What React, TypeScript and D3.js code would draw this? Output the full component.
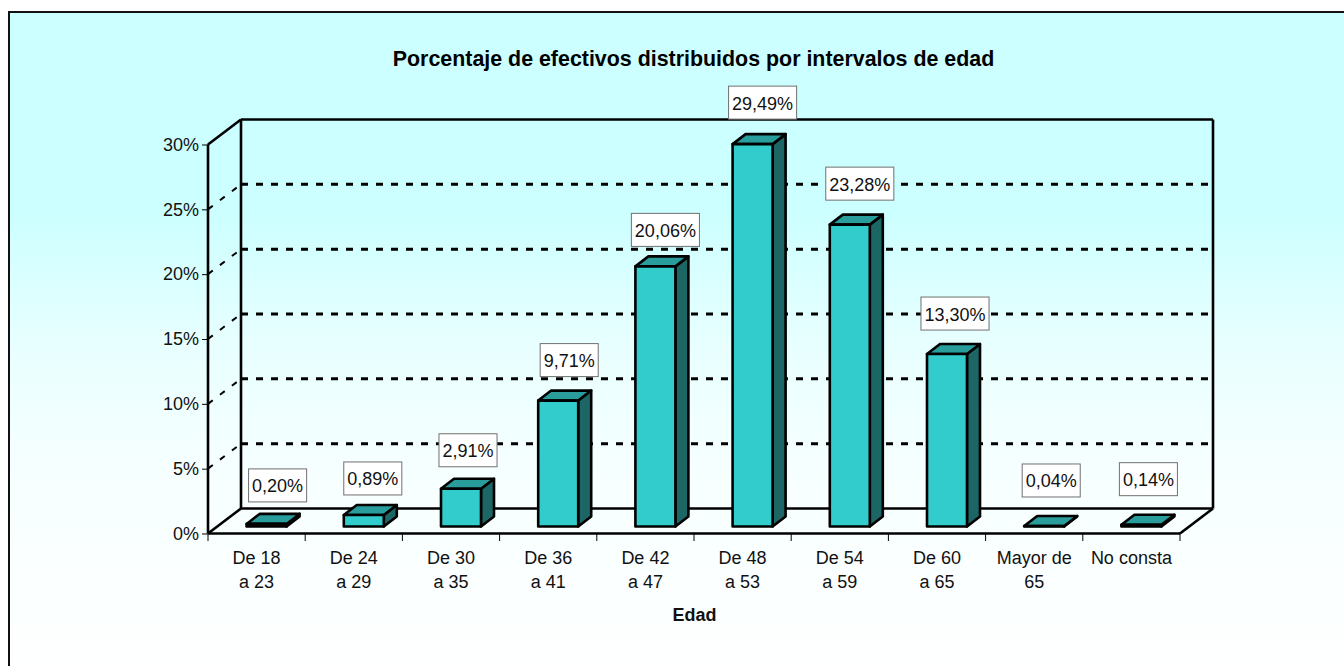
import React, { useEffect, useRef } from "react";
import * as d3 from "d3";

const categories = [
  ["De 18", "a 23"],
  ["De 24", "a 29"],
  ["De 30", "a 35"],
  ["De 36", "a 41"],
  ["De 42", "a 47"],
  ["De 48", "a 53"],
  ["De 54", "a 59"],
  ["De 60", "a 65"],
  ["Mayor de", "65"],
  ["No consta"],
];
const values = [0.2, 0.89, 2.91, 9.71, 20.06, 29.49, 23.28, 13.3, 0.04, 0.14];
const valueLabels = ["0,20%", "0,89%", "2,91%", "9,71%", "20,06%", "29,49%", "23,28%", "13,30%", "0,04%", "0,14%"];
const yTicks = [0, 5, 10, 15, 20, 25, 30];

// small hand nudges for the label boxes, Excel places them a bit unevenly
const labelNudgeX = [3, 1, -1, 3, 2, 2, 2, 0, -1, -1];
const labelNudgeY = [-1, -3, -1, 1, -3, 2, 1.5, 1, 6, 6];

const font = "'Liberation Sans', Arial, sans-serif";

const App = () => {
  const ref = useRef<SVGSVGElement>(null);

  useEffect(() => {
    const svg = d3.select(ref.current);
    svg.selectAll("*").remove();

    const left = 208;
    const right = 1180;
    const bottom = 533.5;
    const top = 144.5;
    const depthX = 33;
    const depthY = 25;
    const lineW = 2.6;

    const x = d3
      .scaleBand<number>()
      .domain(d3.range(values.length))
      .range([left, right]);
    const y = d3.scaleLinear().domain([0, 30]).range([bottom, top]);

    // Background
    const defs = svg.append("defs");
    const grad = defs
      .append("linearGradient")
      .attr("id", "bg")
      .attr("x1", 0)
      .attr("y1", 0)
      .attr("x2", 0)
      .attr("y2", 1);
    [
      [0, "#ccffff"],
      [0.3, "#ccffff"],
      [0.5, "#e8ffff"],
      [0.68, "#f6ffff"],
      [0.85, "#fbffff"],
      [1, "#ffffff"],
    ].forEach(([o, c]) => grad.append("stop").attr("offset", o).attr("stop-color", c));

    svg
      .append("rect")
      .attr("x", 9)
      .attr("y", 12)
      .attr("width", 1344)
      .attr("height", 666)
      .attr("fill", "url(#bg)")
      .attr("stroke", "#111")
      .attr("stroke-width", 2);

    const plot = svg.append("g");
    const line = (x1: number, y1: number, x2: number, y2: number, w = lineW, dash?: string) =>
      plot
        .append("line")
        .attr("x1", x1)
        .attr("y1", y1)
        .attr("x2", x2)
        .attr("y2", y2)
        .attr("stroke", "#000")
        .attr("stroke-width", w)
        .attr("stroke-dasharray", dash || null);

    // Grid on the back wall and the side wall
    yTicks.slice(1, -1).forEach((t) => {
      line(left + depthX, y(t) - depthY, left + depthX + (right - left), y(t) - depthY, 3, "7 8");
      line(left, y(t), left + depthX, y(t) - depthY, 2, "6 9");
    });

    // Walls
    line(left + depthX, top - depthY, right + depthX, top - depthY);
    line(right + depthX, top - depthY, right + depthX, bottom - depthY);
    line(left + depthX, top - depthY, left + depthX, bottom - depthY);
    line(left + depthX, bottom - depthY, right + depthX, bottom - depthY);
    line(left, top, left + depthX, top - depthY);
    line(left, bottom, left + depthX, bottom - depthY);
    line(right, bottom, right + depthX, bottom - depthY);
    line(left, top, left, bottom);
    line(left, bottom, right, bottom);

    // Axis ticks
    const yAxis = svg
      .append("g")
      .attr("transform", `translate(${left},0)`)
      .call(
        d3
          .axisLeft(y)
          .tickValues(yTicks)
          .tickSize(6)
          .tickPadding(3)
          .tickFormat((d) => d + "%")
      );
    yAxis.select(".domain").remove();
    yAxis.selectAll("line").attr("stroke", "#000").attr("stroke-width", 1);
    yAxis
      .selectAll("text")
      .attr("fill", "#111")
      .style("font-family", font)
      .style("font-size", "18px");

    d3.range(values.length + 1).forEach((i) => {
      line(left + i * x.step(), bottom, left + i * x.step(), bottom + 7.5, 1);
    });

    // Category labels
    categories.forEach((lines, i) => {
      lines.forEach((s, j) => {
        svg
          .append("text")
          .attr("x", x(i)! + x.bandwidth() / 2)
          .attr("y", 564 + j * 24)
          .attr("text-anchor", "middle")
          .attr("fill", "#111")
          .style("font-family", font)
          .style("font-size", "18px")
          .text(s);
      });
    });

    // Bars
    const barW = 40;
    const front = { x: 10, y: 7 };
    const dx = 13;
    const dy = 10;
    const poly = (pts: number[][], fill: string) =>
      svg
        .append("polygon")
        .attr("points", pts.map((p) => p.join(",")).join(" "))
        .attr("fill", fill)
        .attr("stroke", "#000")
        .attr("stroke-width", lineW)
        .attr("stroke-linejoin", "round");

    values.forEach((v, i) => {
      const x0 = x(i)! + (x.bandwidth() - barW) / 2 + front.x;
      const x1 = x0 + barW;
      const y0 = y(0) - front.y;
      const yv = y(v) - front.y;
      poly(
        [
          [x1, y0],
          [x1 + dx, y0 - dy],
          [x1 + dx, yv - dy],
          [x1, yv],
        ],
        "#1d6666"
      );
      poly(
        [
          [x0, yv],
          [x0 + dx, yv - dy],
          [x1 + dx, yv - dy],
          [x1, yv],
        ],
        "#299c9c"
      );
      poly(
        [
          [x0, y0],
          [x1, y0],
          [x1, yv],
          [x0, yv],
        ],
        "#33cccc"
      );
    });

    // Value labels in their white boxes
    values.forEach((v, i) => {
      const cx = x(i)! + x.bandwidth() / 2 + front.x + 8 + labelNudgeX[i];
      const boxBottom = y(v) - front.y - dy - 13 - labelNudgeY[i];
      const g = svg.append("g");
      const text = g
        .append("text")
        .attr("x", cx)
        .attr("y", boxBottom - 9.5)
        .attr("text-anchor", "middle")
        .attr("fill", "#111")
        .style("font-family", font)
        .style("font-size", "18px")
        .text(valueLabels[i]);
      const w = (text.node() as SVGTextElement).getComputedTextLength() + 7;
      g.insert("rect", "text")
        .attr("x", cx - w / 2)
        .attr("y", boxBottom - 33)
        .attr("width", w)
        .attr("height", 33)
        .attr("fill", "#fff")
        .attr("stroke", "#707070")
        .attr("stroke-width", 1);
    });

    svg
      .append("text")
      .attr("x", 693.5)
      .attr("y", 65.5)
      .attr("text-anchor", "middle")
      .attr("fill", "#000")
      .style("font-family", font)
      .style("font-size", "21.4px")
      .style("font-weight", "bold")
      .text("Porcentaje de efectivos distribuidos por intervalos de edad");

    svg
      .append("text")
      .attr("x", 694.5)
      .attr("y", 621)
      .attr("text-anchor", "middle")
      .attr("fill", "#111")
      .style("font-family", font)
      .style("font-size", "18px")
      .style("font-weight", "bold")
      .text("Edad");
  }, []);

  return (
    <svg
      ref={ref}
      width={1344}
      height={666}
      style={{ position: "absolute", left: 0, top: 0, display: "block" }}
    />
  );
};

export default App;
